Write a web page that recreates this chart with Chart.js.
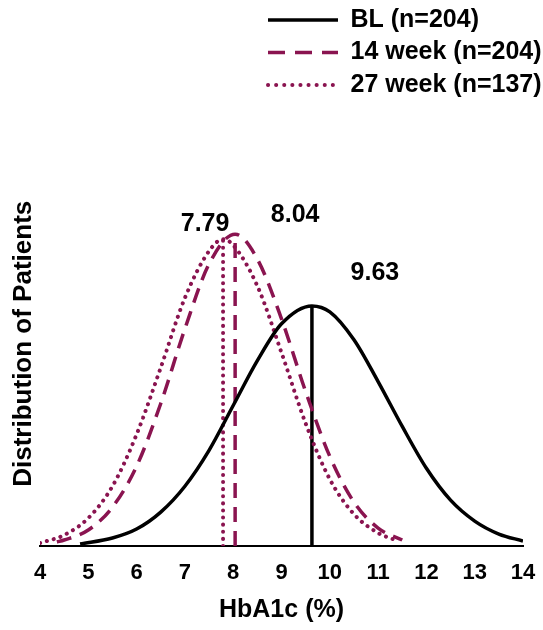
<!DOCTYPE html>
<html>
<head>
<meta charset="utf-8">
<script src="https://cdn.jsdelivr.net/npm/chart.js@4/dist/chart.umd.min.js"></script>
<style>
  html, body { margin: 0; padding: 0; background: #fff; }
  #wrap { width: 543px; height: 630px; position: relative; }
</style>
</head>
<body>
<div id="wrap"><canvas id="chart"></canvas></div>
<script>
// HbA1c (%) on x, relative distribution height on y
var blX = [4.83, 5.5, 6, 6.5, 7, 7.5, 8, 8.5, 9, 9.63, 10, 10.5, 11, 11.5, 12, 12.5, 13, 13.5, 14];
var blY = [0.2, 0.8, 1.7, 3.4, 6.0, 9.6, 14.1, 18.6, 22.3, 24.1, 23.5, 20.7, 16.5, 12.0, 7.8, 4.6, 2.5, 1.2, 0.5];

var wk14X = [4.35, 4.5, 5, 5.5, 6, 6.5, 7, 7.5, 8.04, 8.5, 9, 9.5, 10, 10.5, 11, 11.5];
var wk14Y = [0.4, 0.6, 1.6, 3.9, 8.0, 14.3, 21.8, 28.3, 31.3, 28.8, 22.8, 15.5, 9.0, 4.4, 1.8, 0.6];

var wk27X = [4.0, 4.5, 5, 5.5, 6, 6.5, 7, 7.5, 7.79, 8, 8.5, 9, 9.5, 10, 10.5, 11, 11.3];
var wk27Y = [0.3, 1.1, 2.8, 6.0, 11.2, 17.9, 24.9, 29.6, 30.8, 30.2, 26.1, 19.4, 12.3, 6.7, 3.2, 1.3, 0.7];

var seriesNames = ['BL (n=204)', '14 week (n=204)', '27 week (n=137)'];
var means = [9.63, 8.04, 7.79];
var peaks = [24.1, 31.3, 30.8];

var xMin = 4, xMax = 14;

var maroon = '#8a1450';
var font = '"Liberation Sans", Arial, sans-serif';
// pixel offsets of the mean labels from the top of each mean line
var labelOffsets = [[63, -33], [60, -19], [-18, -15]];
var legendDash = [[], [17, 10], [0.1, 8]];

function pts(xs, ys) {
  return xs.map(function(x, i) { return {x: x, y: ys[i]}; });
}
function meanLine(i) {
  return [{x: means[i], y: 0}, {x: means[i], y: peaks[i]}];
}

var curveStyle = [
  {borderColor: '#000', borderWidth: 3.5, borderDash: [], borderCapStyle: 'butt'},
  {borderColor: maroon, borderWidth: 3.5, borderDash: [15, 9], borderCapStyle: 'butt'},
  {borderColor: maroon, borderWidth: 4, borderDash: [0.1, 7], borderCapStyle: 'round'}
];

var datasets = [pts(blX, blY), pts(wk14X, wk14Y), pts(wk27X, wk27Y)].map(function(d, i) {
  return Object.assign({label: seriesNames[i], data: d, pointRadius: 0, fill: false,
    cubicInterpolationMode: 'monotone'}, curveStyle[i]);
});
[0, 1, 2].forEach(function(i) {
  datasets.push(Object.assign({label: 'mean ' + means[i], data: meanLine(i), pointRadius: 0, fill: false}, curveStyle[i]));
});

var meanLabels = {
  id: 'meanLabels',
  afterDatasetsDraw: function(chart) {
    var ctx = chart.ctx, sx = chart.scales.x, sy = chart.scales.y;
    ctx.save();
    ctx.font = 'bold 25px ' + font;
    ctx.fillStyle = '#000';
    ctx.textAlign = 'center';
    ctx.textBaseline = 'middle';
    means.forEach(function(m, i) {
      ctx.fillText(m.toFixed(2), sx.getPixelForValue(m) + labelOffsets[i][0], sy.getPixelForValue(peaks[i]) + labelOffsets[i][1]);
    });
    ctx.restore();
  }
};

// one legend entry per row, lines lined up on the left
var stackLegend = {
  id: 'stackLegend',
  afterInit: function(chart) {
    var legend = chart.legend;
    var fitRows = legend._fitRows;
    legend._fitRows = function() {
      var full = this.maxWidth;
      this.maxWidth = 1;
      var h = fitRows.apply(this, arguments);
      this.maxWidth = full;
      var w = full - 268;
      this.lineWidths = this.lineWidths.map(function() { return w; });
      return h + 34;
    };
  }
};

new Chart(document.getElementById('chart'), {
  type: 'line',
  data: {datasets: datasets},
  plugins: [stackLegend, meanLabels],
  options: {
    responsive: true,
    maintainAspectRatio: false,
    animation: false,
    layout: {padding: 0},
    plugins: {
      tooltip: {enabled: false},
      legend: {
        position: 'top',
        align: 'end',
        labels: {
          color: '#000',
          font: {family: font, size: 25, weight: 'bold'},
          usePointStyle: true,
          pointStyle: 'line',
          pointStyleWidth: 70,
          padding: 7.5,
          filter: function(item) { return item.datasetIndex < 3; },
          generateLabels: function(chart) {
            var items = Chart.defaults.plugins.legend.labels.generateLabels(chart);
            items.forEach(function(it) {
              var s = curveStyle[it.datasetIndex];
              if (!s) return;
              it.lineDash = legendDash[it.datasetIndex];
              it.lineCap = s.borderCapStyle;
              it.lineWidth = s.borderWidth;
              it.strokeStyle = s.borderColor;
            });
            return items;
          }
        }
      }
    },
    scales: {
      x: {
        type: 'linear',
        min: xMin,
        max: xMax,
        grid: {display: false, drawTicks: false},
        border: {display: true, color: '#000', width: 2},
        ticks: {stepSize: 1, padding: 14, color: '#000', font: {family: font, size: 22, weight: 'bold'}},
        title: {display: true, text: 'HbA1c (%)', color: '#000', padding: {top: 0, bottom: 5},
          font: {family: font, size: 25, weight: 'bold'}},
        afterFit: function(s) { s.height = 84; s.paddingRight = 20; }
      },
      y: {
        min: 0,
        max: 40.6,
        grid: {display: false, drawTicks: false},
        border: {display: false},
        ticks: {display: false},
        title: {display: true, text: 'Distribution of Patients', color: '#000', padding: {top: 8, bottom: 0},
          font: {family: font, size: 26, weight: 'bold'}},
        afterFit: function(s) { s.width = 40; }
      }
    }
  }
});
</script>
</body>
</html>
